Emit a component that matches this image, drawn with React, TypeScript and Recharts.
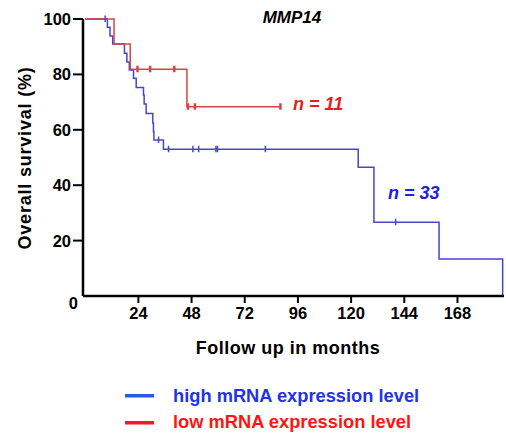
import React from "react";
import { LineChart, Line, XAxis, YAxis } from "recharts";

// Kaplan-Meier steps: time (months), survival (%), censored (1)
const highTime = [0, 9.0, 10.0, 11.2, 12.4, 17.7, 18.8, 19.9, 21.8, 23.0, 26.3, 26.6, 27.5, 30.5, 30.8, 31.0, 33.1, 35.3, 37.6, 48.6, 51.2, 59.0, 59.7, 81.3, 123.2, 130.3, 140.1, 159.7, 188.4];
const highSurv = [100, 100, 97.0, 93.9, 91.0, 87.6, 84.5, 81.6, 78.6, 75.3, 72.6, 69.3, 65.9, 62.5, 59.3, 56.3, 56.3, 53.0, 53.0, 53.0, 53.0, 53.0, 53.0, 53.0, 46.5, 26.6, 26.6, 13.4, 0];
const highCens = [0, 1, 0, 0, 0, 0, 0, 0, 0, 0, 0, 0, 0, 0, 0, 0, 1, 0, 1, 1, 1, 1, 1, 1, 0, 0, 1, 0, 0];

const lowTime = [0, 13.0, 20.3, 23.6, 29.3, 40.2, 45.9, 46.4, 49.5, 88.1];
const lowSurv = [100, 91.0, 81.9, 81.9, 81.9, 81.9, 68.3, 68.3, 68.3, 68.3];
const lowCens = [0, 0, 0, 1, 1, 1, 0, 1, 1, 1];

const xTicks = [24, 48, 72, 96, 120, 144, 168];
const yTicks = [0, 20, 40, 60, 80, 100];

const BLUE = "#4646cc";
const RED = "#d84444";
const FONT = "'Liberation Sans', Arial, Helvetica, sans-serif";

const build = (t: number[], s: number[], c: number[]) =>
  t.map((v, i) => ({ t: v, s: s[i], c: c[i] }));

const highData = build(highTime, highSurv, highCens);
const lowData = build(lowTime, lowSurv, lowCens);

const censorDot = (color: string, w: number) => (props: any) => {
  const { cx, cy, payload, index } = props;
  if (!payload || payload.c !== 1) return <g key={index} />;
  return (
    <line
      key={index}
      x1={cx}
      x2={cx}
      y1={cy - 3.5}
      y2={cy + 3}
      stroke={color}
      strokeWidth={w}
    />
  );
};

const YTick = (props: any) => {
  const { y, payload } = props;
  if (payload.value === 0) {
    return (
      <text x={78} y={y + 13} textAnchor="end" fontFamily={FONT} fontWeight="bold" fontSize={16.5} fill="#000">
        0
      </text>
    );
  }
  return (
    <g>
      <line x1={73} x2={83} y1={y} y2={y} stroke="#000" strokeWidth={2} />
      <text x={71} y={y + 6} textAnchor="end" fontFamily={FONT} fontWeight="bold" fontSize={16.5} fill="#000">
        {payload.value}
      </text>
    </g>
  );
};

export default function App() {
  return (
    <div style={{ position: "absolute", left: 0, top: 0, width: 506, height: 438, background: "#fff" }}>
      <LineChart width={506} height={438} margin={{ top: 19, right: 2, bottom: 82, left: 0 }}>
        <XAxis
          type="number"
          dataKey="t"
          domain={[-1, 189]}
          ticks={xTicks}
          allowDataOverflow
          height={60}
          tickSize={7}
          tickMargin={4}
          axisLine={{ stroke: "#000", strokeWidth: 2.5 }}
          tickLine={{ stroke: "#000", strokeWidth: 2 }}
          tick={{ fill: "#000", fontFamily: FONT, fontWeight: "bold", fontSize: 16.5 }}
        />
        <YAxis
          type="number"
          domain={[0, 100]}
          ticks={yTicks}
          width={83}
          tickLine={false}
          axisLine={{ stroke: "#000", strokeWidth: 2.5 }}
          tick={<YTick />}
        />
        <Line
          data={highData}
          dataKey="s"
          type="stepAfter"
          stroke={BLUE}
          strokeWidth={1.5}
          dot={censorDot(BLUE, 1.5)}
          activeDot={false}
          isAnimationActive={false}
        />
        <Line
          data={lowData}
          dataKey="s"
          type="stepAfter"
          stroke={RED}
          strokeWidth={1.5}
          dot={censorDot(RED, 2.5)}
          activeDot={false}
          isAnimationActive={false}
        />
      </LineChart>
      <svg
        width={506}
        height={438}
        style={{ position: "absolute", left: 0, top: 0, pointerEvents: "none" }}
        fontFamily={FONT}
        fontWeight="bold"
      >
        <text x={292} y={23} textAnchor="middle" fontSize={17} fontStyle="italic" fill="#000">
          MMP14
        </text>
        <text x={293} y={109.5} fontSize={18} fontStyle="italic" fill="#e41e1e">
          n = 11
        </text>
        <text x={388} y={198.5} fontSize={18} fontStyle="italic" fill="#2020d8">
          n = 33
        </text>
        <text
          x={0}
          y={0}
          transform="translate(31,158) rotate(-90)"
          textAnchor="middle"
          fontSize={18}
          letterSpacing={0.8}
          fill="#000"
        >
          Overall survival (%)
        </text>
        <text x={288} y={353.5} textAnchor="middle" fontSize={18} letterSpacing={0.5} fill="#000">
          Follow up in months
        </text>
        <rect x={125} y={394} width={29} height={3.5} fill="#2b57e6" />
        <text x={173} y={401.5} fontSize={18.3} fill="#1f33ec">
          high mRNA expression level
        </text>
        <rect x={125} y={421} width={29} height={3.5} fill="#ee1c1c" />
        <text x={173} y={428} fontSize={18.3} fill="#ff1414">
          low mRNA expression level
        </text>
      </svg>
    </div>
  );
}
